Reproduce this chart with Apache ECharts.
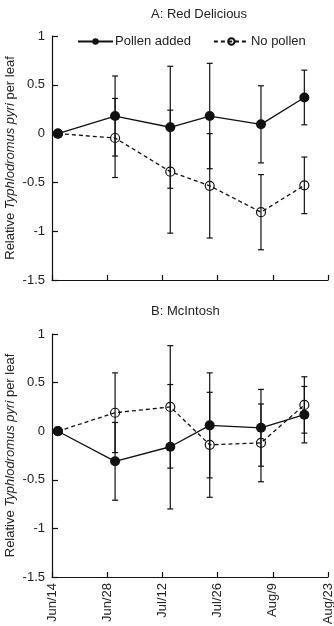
<!DOCTYPE html>
<html>
<head>
<meta charset="utf-8">
<script src="https://cdn.jsdelivr.net/npm/echarts@6/dist/echarts.min.js"></script>
<style>
html,body{margin:0;padding:0;background:#fff;}
#c{width:334px;height:626px;}
</style>
</head>
<body>
<div id="c"></div>
<script>
// Tick labels (x axis: days since Jun/14, every 14 days)
var tickLabels = ['Jun/14', 'Jun/28', 'Jul/12', 'Jul/26', 'Aug/9', 'Aug/23'];
// Sampling dates as days after Jun/14
var sampleDays = [1.5, 16, 30, 40, 53, 64];

// Panel A: Red Delicious
var redPollen      = [0, 0.18, 0.065, 0.18, 0.095, 0.37];
var redPollenErr   = [0, 0.41, 0.625, 0.54, 0.395, 0.28];
var redNoPollen    = [0, -0.045, -0.39, -0.535, -0.805, -0.53];
var redNoPollenErr = [0, 0.405, 0.63, 0.535, 0.385, 0.29];

// Panel B: McIntosh
var macPollen      = [0, -0.31, -0.16, 0.06, 0.035, 0.17];
var macPollenErr   = [0, 0.40, 0.64, 0.54, 0.395, 0.29];
var macNoPollen    = [0, 0.19, 0.25, -0.14, -0.12, 0.27];
var macNoPollenErr = [0, 0.41, 0.63, 0.54, 0.40, 0.29];

var ink = '#111';
var txt = '#222';
var font = 'Liberation Sans, Arial, sans-serif';
var fs = 13;

function pts(vals) {
  return sampleDays.map(function (d, i) { return [d, vals[i]]; });
}
function errPts(vals, errs) {
  return sampleDays.map(function (d, i) { return [d, vals[i] - errs[i], vals[i] + errs[i]]; });
}
function errRender(params, api) {
  var x = api.value(0), lo = api.value(1), hi = api.value(2);
  if (hi - lo < 1e-9) return null;
  var a = api.coord([x, hi]), b = api.coord([x, lo]);
  var w = 3;
  var st = { stroke: ink, lineWidth: 1.2 };
  return {
    type: 'group',
    children: [
      { type: 'line', shape: { x1: a[0], y1: a[1], x2: b[0], y2: b[1] }, style: st },
      { type: 'line', shape: { x1: a[0] - w, y1: a[1], x2: a[0] + w, y2: a[1] }, style: st },
      { type: 'line', shape: { x1: b[0] - w, y1: b[1], x2: b[0] + w, y2: b[1] }, style: st }
    ]
  };
}

function xAxis(idx, showLabels) {
  return {
    type: 'value', gridIndex: idx, min: 0, max: 70, interval: 14,
    axisLine: { onZero: false, lineStyle: { color: ink, width: 1.2 } },
    axisTick: { inside: true, length: 5, lineStyle: { color: ink, width: 1.2 } },
    splitLine: { show: false },
    axisLabel: {
      show: showLabels, rotate: 90, color: txt, fontSize: fs, fontFamily: font, margin: 6,
      formatter: function (v) { return tickLabels[Math.round(v / 14)]; }
    }
  };
}
function yAxis(idx) {
  return {
    type: 'value', gridIndex: idx, min: -1.5, max: 1, interval: 0.5,
    axisLine: { show: true, onZero: false, lineStyle: { color: ink, width: 1.2 } },
    axisTick: { show: true, inside: true, length: 6, lineStyle: { color: ink, width: 1.2 } },
    splitLine: { show: false },
    axisLabel: { color: txt, fontSize: fs, fontFamily: font, margin: 7 },
    name: '{n|Relative }{i|Typhlodromus pyri}{n| per leaf}',
    nameLocation: 'middle', nameGap: 35, nameRotate: 90, nameMoveOverlap: false,
    nameTextStyle: {
      color: txt, fontSize: fs, fontFamily: font,
      rich: {
        n: { color: txt, fontSize: fs, fontFamily: font },
        i: { color: txt, fontSize: fs, fontFamily: font, fontStyle: 'italic' }
      }
    }
  };
}
function lineSeries(name, idx, vals, filled) {
  return {
    name: name, type: 'line', xAxisIndex: idx, yAxisIndex: idx,
    data: pts(vals), z: filled ? 5 : 4,
    symbol: 'circle', symbolSize: filled ? 10 : 9,
    lineStyle: { color: ink, width: 1.3, type: filled ? 'solid' : [4, 3] },
    itemStyle: filled ? { color: ink, borderColor: ink, borderWidth: 0 }
                      : { color: 'rgba(0,0,0,0)', borderColor: ink, borderWidth: 1.2 },
    color: ink,
    animation: false
  };
}
function errSeries(idx, vals, errs) {
  return {
    type: 'custom', xAxisIndex: idx, yAxisIndex: idx, z: 3,
    data: errPts(vals, errs), renderItem: errRender, animation: false
  };
}

var chart = echarts.init(document.getElementById('c'), null, { renderer: 'canvas' });
chart.setOption({
  backgroundColor: '#fff',
  animation: false,
  title: [
    { text: 'A: Red Delicious', left: 146, top: 3, textStyle: { color: txt, fontSize: fs, fontWeight: 'normal', fontFamily: font } },
    { text: 'B: McIntosh', left: 146, top: 300, textStyle: { color: txt, fontSize: fs, fontWeight: 'normal', fontFamily: font } }
  ],
  legend: {
    left: 72, top: 30, itemWidth: 35, itemHeight: 8, itemGap: 22,
    textStyle: { color: txt, fontSize: fs, fontFamily: font, padding: [0, 0, 0, -3] },
    data: ['Pollen added', 'No pollen']
  },
  grid: [
    { left: 52, right: 6, top: 36, height: 244, containLabel: false, outerBoundsMode: 'none' },
    { left: 52, right: 6, top: 334, height: 243, containLabel: false, outerBoundsMode: 'none' }
  ],
  xAxis: [xAxis(0, false), xAxis(1, true)],
  yAxis: [yAxis(0), yAxis(1)],
  series: [
    errSeries(0, redPollen, redPollenErr),
    errSeries(0, redNoPollen, redNoPollenErr),
    lineSeries('No pollen', 0, redNoPollen, false),
    lineSeries('Pollen added', 0, redPollen, true),
    errSeries(1, macPollen, macPollenErr),
    errSeries(1, macNoPollen, macNoPollenErr),
    lineSeries('No pollen', 1, macNoPollen, false),
    lineSeries('Pollen added', 1, macPollen, true)
  ]
});
</script>
</body>
</html>
